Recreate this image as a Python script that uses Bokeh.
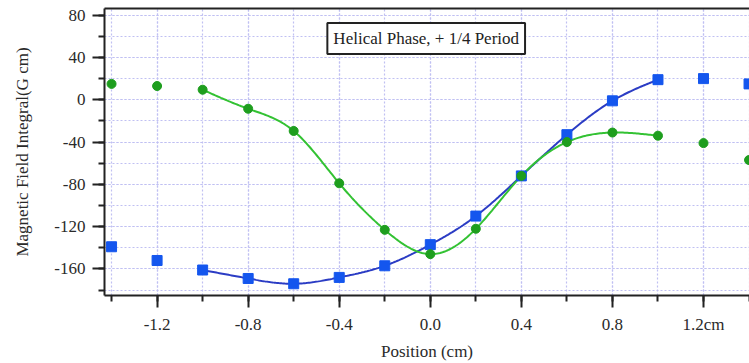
import numpy as np
from bokeh.plotting import figure
from bokeh.models import (Range1d, SingleIntervalTicker, LinearAxis, Label,
                          CustomJSTickFormatter)
from bokeh.embed import file_html
from bokeh.resources import INLINE

positions = [-1.4, -1.2, -1.0, -0.8, -0.6, -0.4, -0.2, 0.0, 0.2, 0.4, 0.6, 0.8, 1.0, 1.2, 1.4]
green_vals = [15, 13, 9.5, -8.5, -29.5, -79, -123, -146, -122, -72, -40, -31, -34, -41, -57]
blue_vals = [-139, -152, -161, -169, -174, -168, -157, -137, -110, -72, -33, -1, 19, 20, 15]
fit_start, fit_end = -1.0, 1.0
title_text = "Helical Phase, + 1/4 Period"


def natural_spline(xs, ys, n=300):
    xs = np.asarray(xs, float)
    ys = np.asarray(ys, float)
    k = len(xs)
    h = np.diff(xs)
    A = np.zeros((k, k))
    b = np.zeros(k)
    A[0, 0] = 1
    A[-1, -1] = 1
    for i in range(1, k - 1):
        A[i, i - 1] = h[i - 1]
        A[i, i] = 2 * (h[i - 1] + h[i])
        A[i, i + 1] = h[i]
        b[i] = 3 * ((ys[i + 1] - ys[i]) / h[i] - (ys[i] - ys[i - 1]) / h[i - 1])
    c = np.linalg.solve(A, b)
    xx = np.linspace(xs[0], xs[-1], n)
    yy = np.empty_like(xx)
    for j, x in enumerate(xx):
        i = min(np.searchsorted(xs, x, side="right") - 1, k - 2)
        dx = x - xs[i]
        bi = (ys[i + 1] - ys[i]) / h[i] - h[i] * (2 * c[i] + c[i + 1]) / 3
        di = (c[i + 1] - c[i]) / (3 * h[i])
        yy[j] = ys[i] + bi * dx + c[i] * dx ** 2 + di * dx ** 3
    return xx, yy


p = figure(width=749, height=363, output_backend="svg", toolbar_location=None,
           x_range=Range1d(-1.431, 1.402), y_range=Range1d(-185.1, 86.3),
           min_border_left=104, min_border_right=0, min_border_top=8, min_border_bottom=66)
p.outline_line_color = None
p.background_fill_color = "white"

serif = "Liberation Serif"

xt = SingleIntervalTicker(interval=0.4, num_minor_ticks=2)
yt = SingleIntervalTicker(interval=40, num_minor_ticks=2)
p.xaxis.ticker = xt
p.yaxis.ticker = yt
p.xaxis.formatter = CustomJSTickFormatter(
    code="return tick.toFixed(1) + (Math.abs(tick - 1.2) < 1e-6 ? 'cm' : '');")
p.yaxis.formatter = CustomJSTickFormatter(code="return tick.toFixed(0);")

for ax in (p.xaxis[0], p.yaxis[0]):
    ax.axis_line_width = 2
    ax.axis_line_color = "#222222"
    ax.major_tick_line_width = 2
    ax.minor_tick_line_width = 2
    ax.major_tick_line_color = "#222222"
    ax.minor_tick_line_color = "#222222"
    ax.major_tick_out = 12
    ax.major_tick_in = 0
    ax.minor_tick_out = 6
    ax.minor_tick_in = 0
    ax.major_label_text_font = serif
    ax.major_label_text_font_size = "17px"
    ax.major_label_text_color = "#2a2a2a"
    ax.axis_label_text_font = serif
    ax.axis_label_text_font_size = "17px"
    ax.axis_label_text_font_style = "normal"
    ax.axis_label_text_color = "#2a2a2a"

p.xaxis.axis_label = "Position (cm)"
p.yaxis.axis_label = "Magnetic Field Integral(G cm)"
p.xaxis.major_label_standoff = 7
p.xaxis.axis_label_standoff = 5
p.yaxis.major_label_standoff = 7
p.yaxis.axis_label_standoff = 19

top = LinearAxis(major_tick_line_color=None, minor_tick_line_color=None,
                 major_label_text_font_size="0px", axis_line_width=2,
                 axis_line_color="#222222", major_label_standoff=0)
top.major_label_text_color = None
p.add_layout(top, "above")

for g in (p.xgrid[0], p.ygrid[0]):
    g.grid_line_color = "#c0c0f2"
    g.grid_line_dash = "2 2"
    g.grid_line_width = 1.2
    g.minor_grid_line_color = "#c0c0f2"
    g.minor_grid_line_dash = "2 2"
    g.minor_grid_line_width = 1.2

pos = np.array(positions)
mask = (pos >= fit_start - 1e-9) & (pos <= fit_end + 1e-9)
gx, gy = natural_spline(pos[mask], np.array(green_vals)[mask])
bx, by = natural_spline(pos[mask], np.array(blue_vals)[mask])

p.line(bx, by, line_color="#2b3cc4", line_width=2)
p.line(gx, gy, line_color="#33c233", line_width=2)
p.scatter(positions, blue_vals, marker="square", size=10, color="#1456ee")
p.scatter(positions, green_vals, marker="circle", size=9, color="#1e9e1e")

lbl = Label(x=-0.018, y=58, text=title_text, text_align="center", text_baseline="middle",
            text_font=serif, text_font_size="17px", text_color="#222222",
            border_line_color="#222222", border_line_width=2,
            background_fill_color="white", padding=6)
p.add_layout(lbl)

open("out.html", "w").write(file_html(p, INLINE))
